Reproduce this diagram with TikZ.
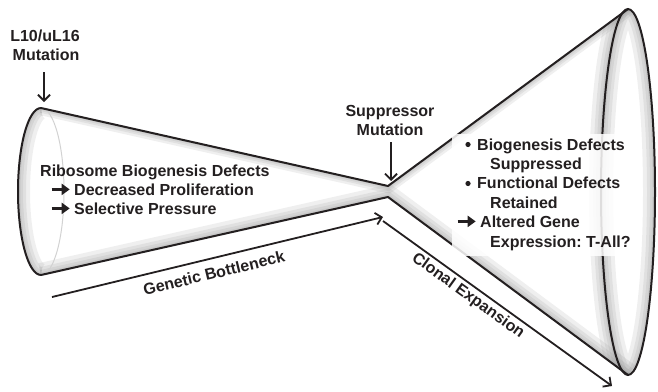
\documentclass[tikz,border=0pt]{standalone}
\usepackage{fontspec}
\setmainfont{Liberation Sans}
\usetikzlibrary{arrows.meta}
\definecolor{ink}{HTML}{231F20}
\frenchspacing
\newcommand\blkarrow{\tikz[baseline=-5.6pt]\draw[ink,line width=3pt,-{Triangle[length=8pt,width=11pt]}] (0pt,0pt)--(18pt,0pt);\hspace{3pt}}
\begin{document}
\begin{tikzpicture}[x=1pt,y=-1pt,
  lbl/.style={font=\bfseries\fontsize{16}{19.5}\selectfont, text=ink, inner sep=0pt},
  edge/.style={ink,line width=2pt},
  arr/.style={ink,line width=1.8pt,-{Straight Barb[length=6pt,width=12pt]}},
  soft/.style={gray,opacity=0.13}]
\useasboundingbox (0,0) rectangle (658,391);
% key points of the hourglass
\coordinate (LT) at (41,108);
\coordinate (LB) at (41,275);
\coordinate (NT) at (388,186);
\coordinate (NB) at (388,197);
\coordinate (RT) at (628,9);
\coordinate (RB) at (628,375);
\coordinate (RC) at (628,192);
% soft shading inside the shape
\begin{scope}
\clip (LT) -- (NT) -- (RT) arc[start angle=90,end angle=-90,x radius=27pt,y radius=183pt] -- (NB) -- (LB) arc[start angle=270,end angle=90,x radius=23pt,y radius=83.5pt] -- cycle;
\foreach \w in {24,16,10,5}{
  \draw[soft,line width=\w pt] (LB) -- (NB) -- (RB);
  \draw[soft,line width=0.6*\w pt] (LT) -- (NT) -- (RT);
  \draw[soft,line width=\w pt] (RC) ellipse[x radius=27pt,y radius=183pt];
  \draw[soft,line width=\w pt] (LT) arc[start angle=90,end angle=270,x radius=23pt,y radius=83.5pt];
}
\end{scope}
% outline
\draw[gray!35,line width=1pt] (LT) arc[start angle=90,end angle=-90,x radius=23pt,y radius=83.5pt];
\draw[edge] (LT) arc[start angle=90,end angle=270,x radius=23pt,y radius=83.5pt];
\draw[edge,line join=round] (LT) -- (NT) -- (RT);
\draw[edge,line join=round] (LB) -- (NB) -- (RB);
\draw[edge] (RC) ellipse[x radius=27pt,y radius=183pt];
% text background on the right
\fill[white,opacity=0.85] (452,134) rectangle (634,256);
% mutation labels and arrows
\node[lbl,anchor=base] (l10a) at (45,41) {L10/uL16};
\node[lbl,anchor=base] (l10b) at (46,60) {Mutation};
\coordinate (l10s) at (44,72);
\coordinate (l10e) at (44,102);
\draw[arr] (l10s) -- (l10e);
\node[lbl,anchor=base] (supa) at (390,116) {Suppressor};
\node[lbl,anchor=base] (supb) at (390,135) {Mutation};
\coordinate (sups) at (391,142);
\coordinate (supe) at (391,181);
\draw[arr] (sups) -- (supe);
% left text
\node[lbl,anchor=base west] (r1) at (40,176) {Ribosome Biogenesis Defects};
\node[lbl,anchor=base west] (r2) at (50,195) {\blkarrow Decreased Proliferation};
\node[lbl,anchor=base west] (r3) at (50,214) {\blkarrow Selective Pressure};
% right text
\fill[ink] (468,144.5) circle (2.6pt);
\node[lbl,anchor=base west] (s1) at (477,150) {Biogenesis Defects};
\node[lbl,anchor=base west] (s2) at (490,169) {Suppressed};
\fill[ink] (468,183.5) circle (2.6pt);
\node[lbl,anchor=base west] (s3) at (477,188) {Functional Defects};
\node[lbl,anchor=base west] (s4) at (490,208) {Retained};
\node[lbl,anchor=base west] (s5) at (456,227) {\blkarrow Altered Gene};
\node[lbl,anchor=base west] (s6) at (490,247) {Expression: T-All?};
% bottleneck and expansion arrows
\coordinate (GBs) at (52,297);
\coordinate (GBe) at (383,217);
\draw[arr] (GBs) -- (GBe);
\node[lbl,rotate=13.6] (gb) at (214,273) {Genetic Bottleneck};
\coordinate (CEs) at (383,221);
\coordinate (CEe) at (612,386);
\draw[arr] (CEs) -- (CEe);
\node[lbl,rotate=-35.8] (ce) at (468,296) {Clonal Expansion};
\end{tikzpicture}
\end{document}
